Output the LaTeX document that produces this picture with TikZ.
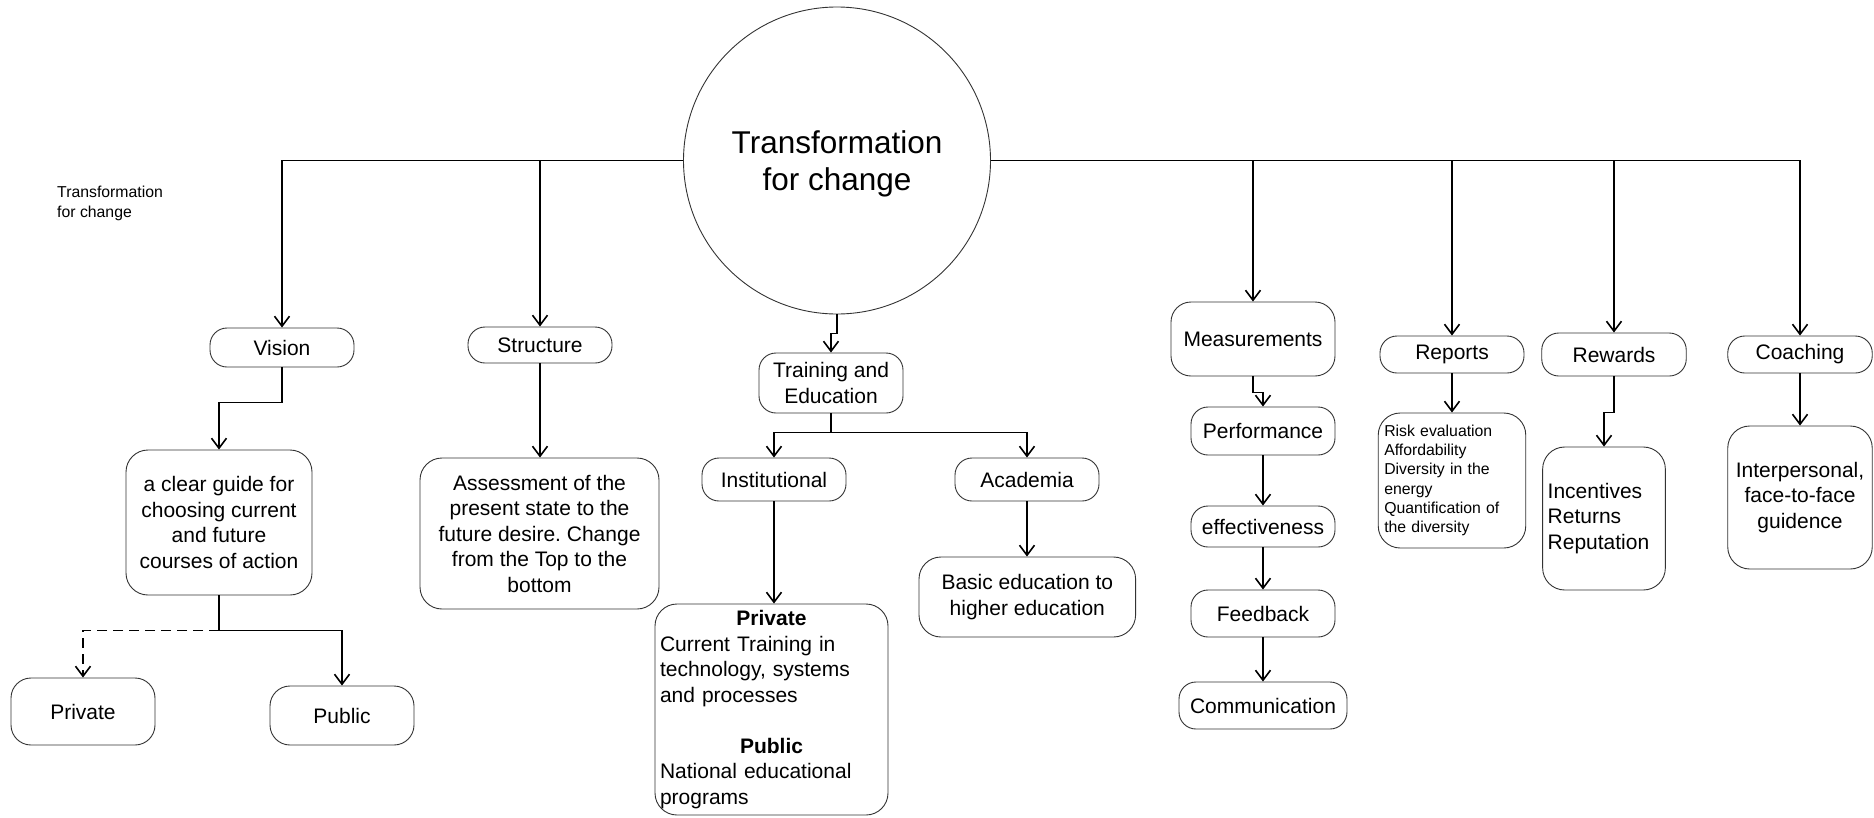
\documentclass[tikz,border=0pt]{standalone}
\usepackage{fontspec}
\setmainfont{Liberation Sans}
\frenchspacing
\usetikzlibrary{arrows.meta,calc}
\begin{document}
\begin{tikzpicture}[x=1pt,y=-1pt,
  box/.style={draw=black!80, line width=0.9pt, rounded corners=17, fill=white,
    inner sep=0pt, align=center, font=\fontsize{21}{25.5}\selectfont},
  bigbox/.style={box, rounded corners=22},
  conn/.style={draw=black, line width=1.6pt, -{Straight Barb[length=10pt,width=15pt]}},
  dashconn/.style={conn, dash pattern=on 10pt off 6pt}
]
\useasboundingbox (0,0) rectangle (1874,817);

% central topic
\node[circle, draw=black!80, line width=0.9pt, minimum size=307, inner sep=0pt,
  align=center, font=\fontsize{31.5}{37}\selectfont] (core) at (837,160.5)
  {\rule{0pt}{29pt}Transformation\\for change};

\node[anchor=west, inner sep=0pt, align=left, font=\fontsize{15.8}{20}\selectfont]
  (lbl) at (57,203.5) {Transformation\\for change};

% vision branch
\node[box, minimum width=144, minimum height=39] (vision) at (282,347.5) {Vision};
\node[bigbox, minimum width=186, minimum height=145] (guide) at (219,522.5)
  {a clear guide for\\choosing current\\and future\\courses of action};
\node[box, rounded corners=20, minimum width=144, minimum height=67] (priv) at (83,711.5) {Private};
\node[box, rounded corners=20, minimum width=144, minimum height=59] (pub) at (342,715.5) {Public};

% structure branch
\node[box, minimum width=144, minimum height=36] (structure) at (540,345) {Structure};
\node[bigbox, minimum width=239, minimum height=151] (assess) at (539.5,533.5)
  {Assessment of the\\present state to the\\future desire. Change\\from the Top to the\\bottom};

% training branch
\node[box, minimum width=144, minimum height=60] (train) at (831,383) {Training and\\Education};
\node[box, minimum width=144, minimum height=43] (inst) at (774,479.5) {Institutional};
\node[box, minimum width=144, minimum height=43] (acad) at (1027,479.5) {Academia};
\node[bigbox, minimum width=233, minimum height=211, align=left, text width=223] (pp) at (771.5,709.5)
  {\makebox[223pt]{\bfseries Private}\\Current Training in\\technology, systems\\and processes\\[25.5pt]%
   \makebox[223pt]{\bfseries Public}\\National educational\\programs};
\node[bigbox, minimum width=216.6, minimum height=80] (basic) at (1027.3,597)
  {Basic education to\\higher education};

% measurement chain
\node[box, rounded corners=20, minimum width=164, minimum height=74] (meas) at (1253,339) {Measurements};
\node[box, minimum width=144, minimum height=48] (perf) at (1263,431) {Performance};
\node[box, minimum width=144, minimum height=41] (eff) at (1263,526.5) {effectiveness};
\node[box, minimum width=144, minimum height=47] (feed) at (1263,613.5) {Feedback};
\node[box, minimum width=168, minimum height=47] (comm) at (1263,705.5) {Communication};

% reports, rewards, coaching
\node[box, minimum width=144, minimum height=37] (reports) at (1452,354.5) {Reports};
\node[bigbox, minimum width=147.5, minimum height=135, align=left, text width=135.5,
  font=\fontsize{15.8}{19.2}\selectfont] (rlist) at (1452,480.5)
  {Risk evaluation\\Affordability\\Diversity in the\\energy\\Quantification of\\the diversity};
\node[box, minimum width=144.5, minimum height=43] (rewards) at (1614,354.5) {Rewards};
\node[bigbox, minimum width=122.7, minimum height=143, align=left, text width=112.7] (incent) at (1604,518.5)
  {Incentives\\Returns\\Reputation};
\node[box, minimum width=144.5, minimum height=37] (coach) at (1800,354.5) {Coaching};
\node[bigbox, minimum width=144.5, minimum height=143] (interp) at (1800,497.5)
  {Interpersonal,\\face-to-face\\guidence};

% main bus
\draw[conn] (core.west) -| (vision);
\draw[conn] (core.west) -| (structure);
\draw[conn] (core.east) -| (meas);
\draw[conn] (core.east) -| (reports);
\draw[conn] (core.east) -| (rewards);
\draw[conn] (core.east) -| (coach);
\draw[conn] (core.south) -- ++(0,19) -| (train);

% vision branch
\draw[conn] (vision.south) -- ++(0,35) -| (guide);
\coordinate (gj) at ($(guide.south)+(0,35)$);
\draw[conn] (guide.south) -- (gj) -| (pub);
\draw[dashconn] (gj) -| (priv);

% structure branch
\draw[conn] (structure.south) -- (structure.south |- assess.north);

% training branch
\coordinate (tj) at ($(train.south)+(0,19)$);
\draw[conn] (train.south) -- (tj) -| (inst);
\draw[conn] (tj) -| (acad);
\draw[conn] (inst.south) -- (inst.south |- pp.north);
\draw[conn] (acad.south) -- (acad.south |- basic.north);

% measurement chain
\draw[conn] (meas.south) -- ++(0,16) -| (perf);
\draw[conn] (perf) -- (eff);
\draw[conn] (eff) -- (feed);
\draw[conn] (feed) -- (comm);

% remaining branches
\draw[conn] (reports.south) -- (reports.south |- rlist.north);
\draw[conn] (rewards.south) -- ++(0,36) -| (incent);
\draw[conn] (coach.south) -- (coach.south |- interp.north);
\end{tikzpicture}
\end{document}
